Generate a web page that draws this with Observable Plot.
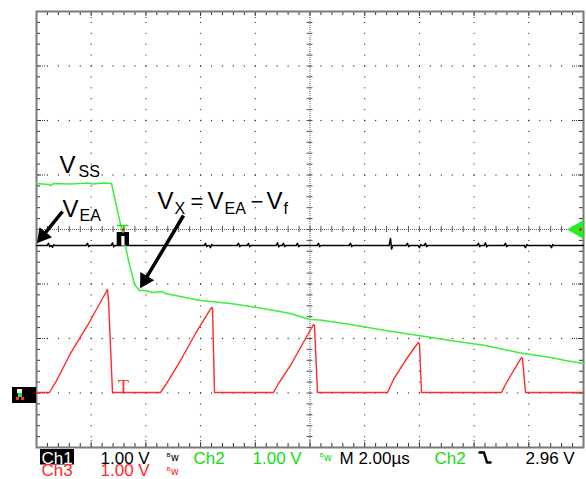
<!DOCTYPE html>
<html><head><meta charset="utf-8">
<script src="https://cdn.jsdelivr.net/npm/d3@7"></script>
<script src="https://cdn.jsdelivr.net/npm/@observablehq/plot@0.6"></script>
<style>body{margin:0;background:#fff}svg{display:block}</style>
</head><body><div id="chart"></div>
<script>
// Time in µs (2 µs/div, 10 divisions), level in screen divisions (1 V/div), 0 = screen centre
const ch2Time  = [0, 0.439, 0.512, 0.622, 1.243, 1.901, 2.048, 2.486, 2.742, 2.998, 3.144, 3.364, 3.583, 3.766, 3.985, 4.241, 4.607, 4.717, 5.265, 5.996, 7.093, 7.824, 8.702, 9.287, 9.982, 10.384, 11.481, 12.761, 13.967, 15.137, 16.417, 17.697, 18.794, 19.342, 20.0];
const ch2Level = [0.844, 0.826, 0.807, 0.844, 0.835, 0.853, 0.835, 0.853, 0.844, 0.257, -0.055, -0.569, -1.009, -1.119, -1.119, -1.156, -1.138, -1.174, -1.229, -1.303, -1.358, -1.413, -1.486, -1.541, -1.651, -1.661, -1.743, -1.853, -1.945, -2.037, -2.128, -2.266, -2.349, -2.404, -2.459];

const ch3Time  = [0, 0.475, 0.695, 1.243, 1.865, 2.596, 2.633, 2.779, 4.534, 4.753, 5.265, 5.814, 6.399, 6.436, 6.508, 8.665, 8.848, 9.287, 9.653, 10.128, 10.165, 10.274, 12.834, 13.053, 13.492, 13.821, 13.967, 14.004, 14.077, 17.002, 17.148, 17.404, 17.623, 17.733, 17.770, 17.879, 20.0];
const ch3Level = [-2.991, -2.991, -2.807, -2.275, -1.761, -1.101, -1.303, -2.991, -2.991, -2.826, -2.404, -1.908, -1.431, -1.450, -2.991, -2.991, -2.826, -2.495, -2.165, -1.743, -1.761, -2.991, -2.991, -2.752, -2.404, -2.165, -2.073, -2.110, -2.991, -2.991, -2.844, -2.624, -2.440, -2.349, -2.367, -2.991, -2.991];

const ch1Level = -0.294;
const ch1GlitchTime = [0.439, 0.585, 1.865, 2.779, 6.179, 6.362, 7.386, 7.751, 8.812, 9.031, 9.543, 10.311, 11.481, 12.943, 13.565, 14.004, 14.223, 16.161, 16.417, 17.148, 17.879, 18.830];
const ch1GlitchAmp  = [0.04, -0.03, 0.04, 0.05, 0.04, -0.04, 0.04, 0.04, 0.05, 0.04, 0.04, 0.04, 0.04, 0.13, 0.04, -0.04, 0.04, 0.04, 0.05, 0.04, -0.04, -0.04];

const annotVSS = ["V", "SS"];
const annotVEA = ["V", "EA"];
const annotVX  = ["V", "X", "=", "V", "EA", "−", "V", "f"];
const statusRow1 = ["Ch1", "1.00 V", "Ch2", "1.00 V", "M 2.00µs", "Ch2", "2.96 V"];
const statusRow2 = ["Ch3", "1.00 V"];
const bwBadge = "ᴮw";

// pixel -> data helpers for layout of decorations
const X = px => (px - 36) / 27.35;
const Y = py => (229 - py) / 54.5;

const GREEN_T = "#3cee3c", RED_T = "#ff2a2a", GREEN_TXT = "#10dd10", FONT = "Liberation Sans, Arial, sans-serif";

const ch2 = ch2Time.map((t, i) => ({t, v: ch2Level[i]}));
const ch3 = ch3Time.map((t, i) => ({t, v: ch3Level[i]}));
const ch1 = [{t: 0, v: ch1Level}];
ch1GlitchTime.forEach((t, i) => {
  const a = ch1GlitchAmp[i];
  ch1.push({t: t - 0.05, v: ch1Level}, {t, v: ch1Level + a}, {t: t + 0.04, v: ch1Level - a * 0.5}, {t: t + 0.08, v: ch1Level});
});
ch1.push({t: 20, v: ch1Level});

const minorX = d3.range(0, 51).map(i => i * 0.4);
const minorY = d3.range(0, 41).map(i => -4 + i * 0.2);
const majorX = d3.range(1, 10).map(i => i * 2);
const majorY = d3.range(-3, 4);
const gridDots = [];
majorX.filter(x => x !== 10).forEach(x => minorY.slice(1, -1).forEach(y => gridDots.push({x, y})));
majorY.filter(y => y !== 0).forEach(y => minorX.slice(1, -1).forEach(x => gridDots.push({x, y})));

const txt = (data, opts) => Plot.text(data, {textAnchor: "start", lineAnchor: "bottom", fontFamily: FONT, ...opts});

// annotation arrows: tail, tip (pixels), head drawn as a filled triangle
const arrowDefs = [
  {tail: [62, 211], tip: [37, 242]},
  {tail: [183, 215], tip: [140, 287]}
].map(a => {
  const dx = a.tip[0] - a.tail[0], dy = a.tip[1] - a.tail[1], L = Math.hypot(dx, dy);
  const ux = dx / L, uy = dy / L, back = 8.5;
  const cx = a.tip[0] - ux * back, cy = a.tip[1] - uy * back;
  return {x1: X(a.tail[0]), y1: Y(a.tail[1]), x2: X(cx), y2: Y(cy), rot: Math.atan2(ux, -uy) * 180 / Math.PI};
});

const marks = [
  // grid
  Plot.dot(gridDots, {x: "x", y: "y", r: 0.65, fill: "#333"}),
  Plot.ruleX(minorX, {x: d => d, y1: () => 4, y2: () => Y(15), stroke: "#333"}),
  Plot.ruleX(minorX, {x: d => d, y1: () => -4, y2: () => Y(443), stroke: "#333"}),
  Plot.ruleY(minorY, {y: d => d, x1: () => 0, x2: () => X(40), stroke: "#333"}),
  Plot.ruleY(minorY, {y: d => d, x1: () => 20, x2: () => X(579), stroke: "#333"}),
  Plot.ruleX(majorX, {x: d => d, y1: () => 4, y2: () => Y(19), stroke: "#333", strokeDasharray: "1 1"}),
  Plot.ruleX(majorX, {x: d => d, y1: () => -4, y2: () => Y(439), stroke: "#333", strokeDasharray: "1 1"}),
  Plot.ruleY(majorY, {y: d => d, x1: () => 0, x2: () => X(45), stroke: "#333", strokeDasharray: "1 1"}),
  Plot.ruleY(majorY, {y: d => d, x1: () => 20, x2: () => X(574), stroke: "#333", strokeDasharray: "1 1"}),
  Plot.ruleY([0], {stroke: "#666", strokeDasharray: "1 1"}),
  Plot.ruleX([10], {stroke: "#666", strokeDasharray: "1 1"}),
  Plot.ruleX(minorX, {x: d => d, y1: () => Y(232), y2: () => Y(226), stroke: "#555"}),
  Plot.ruleY(minorY, {y: d => d, x1: () => X(306.5), x2: () => X(312.5), stroke: "#555"}),
  Plot.frame({stroke: "#7a7a7a", strokeWidth: 2}),
  // traces
  Plot.line(ch1, {x: "t", y: "v", stroke: "#000", strokeWidth: 1.5}),
  Plot.line(ch3, {x: "t", y: "v", stroke: RED_T, strokeWidth: 1.4}),
  Plot.line(ch2, {x: "t", y: "v", stroke: GREEN_T, strokeWidth: 1.5}),
  // trigger position marker
  Plot.rect([0], {x1: () => X(116.7), x2: () => X(129), y1: () => Y(245), y2: () => Y(232), fill: "#000"}),
  Plot.rect([0], {x1: () => X(121.3), x2: () => X(124.5), y1: () => Y(245.5), y2: () => Y(236), fill: "#fff"}),
  Plot.ruleY([0], {y: () => Y(225), x1: () => X(117), x2: () => X(128.5), stroke: "#22dd22", strokeWidth: 1.5}),
  Plot.ruleX([0], {x: () => X(122.8), y1: () => Y(225), y2: () => Y(233), stroke: "#22dd22", strokeWidth: 1.5}),
  Plot.dot([0], {x: () => X(122.8), y: () => Y(229), r: 1.2, fill: "#ff0000"}),
  // ch3 T marker
  Plot.text(["T"], {x: () => X(123), y: () => Y(392), text: d => d, lineAnchor: "bottom", fontFamily: "Liberation Serif, serif", fontSize: 18, fill: RED_T}),
  // trigger level arrow (right)
  Plot.dot([0], {x: () => X(577.5), y: () => 0, symbol: "triangle", rotate: -90, r: 7, fill: "#22ee22"}),
  Plot.dot([0], {x: () => X(580), y: () => 0, r: 1.3, fill: "#ff0000"}),
  // ground marker (left)
  Plot.rect([0], {x1: () => X(12), x2: () => X(36), y1: () => Y(403), y2: () => Y(387), fill: "#000"}),
  Plot.rect([0], {x1: () => X(17), x2: () => X(22), y1: () => Y(393), y2: () => Y(389), fill: "#fff"}),
  Plot.rect([0], {x1: () => X(18), x2: () => X(22), y1: () => Y(397), y2: () => Y(393), fill: "#22ee22"}),
  Plot.rect([0], {x1: () => X(16), x2: () => X(19), y1: () => Y(400), y2: () => Y(397), fill: "#ff3333"}),
  Plot.rect([0], {x1: () => X(21), x2: () => X(24), y1: () => Y(400), y2: () => Y(397), fill: "#ff3333"}),
  // annotation arrows
  Plot.link(arrowDefs, {x1: "x1", y1: "y1", x2: "x2", y2: "y2", stroke: "#000", strokeWidth: 3.5}),
  Plot.dot(arrowDefs, {x: "x2", y: "y2", symbol: "triangle", rotate: "rot", r: 6, fill: "#000"}),
  // annotation labels
  txt([annotVSS[0]], {x: () => X(59), y: () => Y(172), text: d => d, fontSize: 24}),
  txt([annotVSS[1]], {x: () => X(78), y: () => Y(176), text: d => d, fontSize: 16}),
  txt([annotVEA[0]], {x: () => X(62), y: () => Y(216), text: d => d, fontSize: 24}),
  txt([annotVEA[1]], {x: () => X(79), y: () => Y(220), text: d => d, fontSize: 16}),
  txt(annotVX, {
    x: (d, i) => X([157, 174, 190, 207, 224, 250, 266, 283][i]),
    y: (d, i) => Y([208, 213, 208, 208, 213, 208, 208, 213][i]),
    text: d => d,
    fontSize: (d, i) => [24, 16, 22, 24, 16, 22, 24, 16][i]
  }),
  // status bar
  Plot.rect([0], {x1: () => X(40), x2: () => X(74), y1: () => Y(464.5), y2: () => Y(449), fill: "#000"}),
  txt(statusRow1, {
    x: (d, i) => X([41, 100, 193, 252, 339, 434, 525][i]),
    y: () => Y(463),
    text: d => d,
    fontSize: 17,
    fill: (d, i) => ["#fff", "#000", GREEN_TXT, GREEN_TXT, "#000", GREEN_TXT, "#000"][i]
  }),
  txt(statusRow2, {
    x: (d, i) => X([41, 100][i]),
    y: () => Y(475.5),
    text: d => d,
    fontSize: 17,
    fill: RED_T
  }),
  // "BW" badges
  txt([bwBadge, bwBadge, bwBadge], {x: (d, i) => X([166, 319, 166][i]), y: (d, i) => Y([460, 460, 474][i]), text: d => d, fontSize: 10,
    fontFamily: "DejaVu Sans, sans-serif", fill: (d, i) => ["#000", GREEN_TXT, RED_T][i]}),
  // falling-edge trigger glyph
  Plot.line([[479, 452], [483.5, 452], [486.5, 462], [490, 462]], {x: d => X(d[0]), y: d => Y(d[1]), stroke: "#000", strokeWidth: 2.5})
];

const chart = Plot.plot({
  width: 586, height: 479,
  marginLeft: 36, marginRight: 3, marginTop: 11, marginBottom: 32,
  x: {domain: [0, 20], axis: null},
  y: {domain: [-4, 4], axis: null},
  style: {background: "#fff", overflow: "visible"},
  marks
});
document.getElementById("chart").append(chart);
</script></body></html>
